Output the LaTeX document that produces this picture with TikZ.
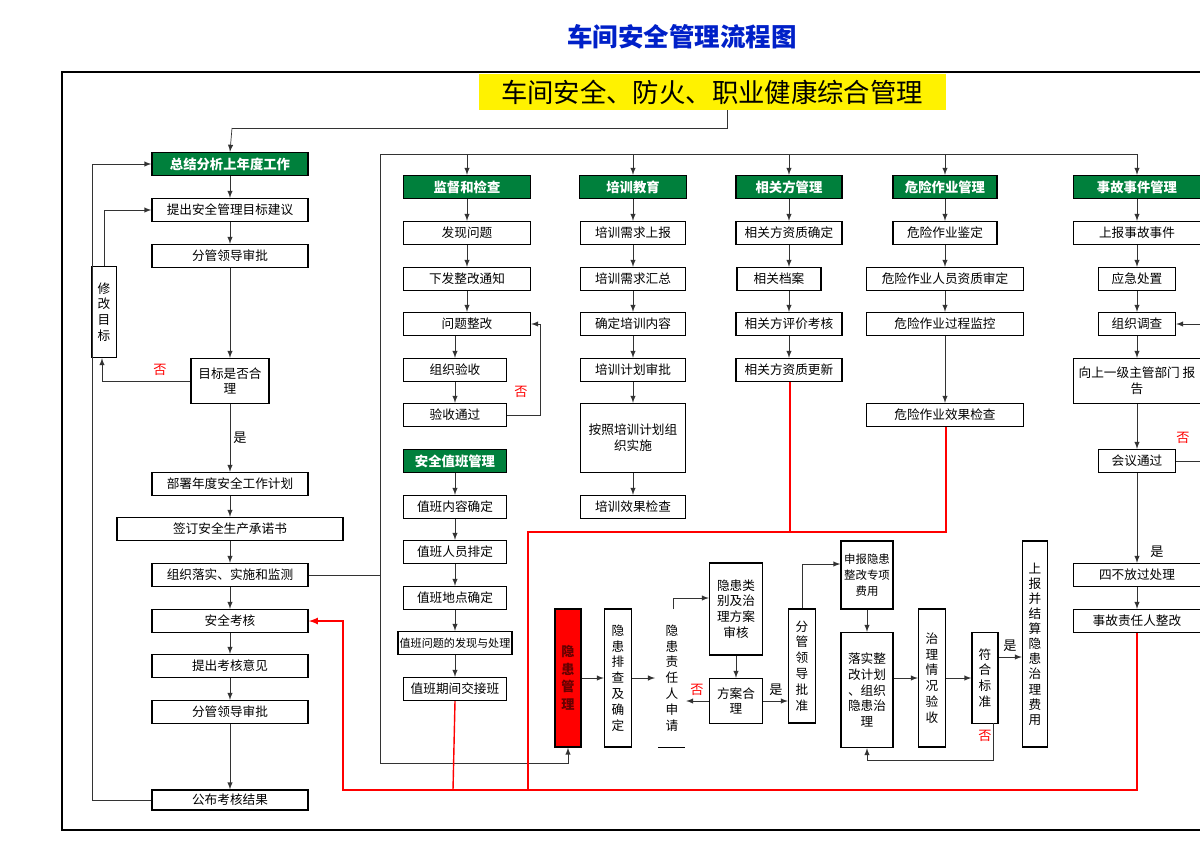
\documentclass[tikz,border=0pt]{standalone}
\usepackage{fontspec}
\setmainfont{Noto Sans CJK SC}
\usetikzlibrary{arrows}
\XeTeXlinebreaklocale "zh"
\definecolor{hdgreen}{RGB}{0,128,60}
\definecolor{ttblue}{RGB}{0,32,200}
\tikzset{
  w/.style={minimum width=#1*0.02cm},
  h/.style={minimum height=#1*0.02cm},
  box/.style={draw,thick,fill=white,inner sep=1pt,font=\fontsize{7.2}{9}\selectfont,align=center,h=23},
  head/.style={box,fill=hdgreen,text=white,font=\bfseries\fontsize{7.6}{9}\selectfont},
  vbox/.style={box,text width=0.3cm},
  arr/.style={-latex,black!80},
  ln/.style={black!80},
  red line/.style={red,thick},
  no/.style={red,font=\fontsize{7.5}{9}\selectfont},
  yes/.style={font=\fontsize{7.5}{9}\selectfont}
}
\begin{document}
\begin{tikzpicture}[x=0.02cm,y=-0.02cm]
\useasboundingbox (0,0) rectangle (1200,853);
\draw[thick] (62,72) rectangle (1215,830);
\node[text=ttblue,font=\bfseries\fontsize{14.5}{16}\selectfont] (title) at (682,37) {车间安全管理流程图};
\node[fill=yellow,w=467,h=36,font=\fontsize{15}{17}\selectfont] (top) at (712,92) {车间安全、防火、职业健康综合管理};
% left column
\node[head,w=156] (l1) at (230,164) {总结分析上年度工作};
\node[box,w=156] (l2) at (230,210) {提出安全管理目标建议};
\node[box,w=156] (l3) at (230,256) {分管领导审批};
\node[box,w=78,h=45] (l4) at (230,381) {目标是否合\\理};
\node[box,w=156] (l5) at (230,484) {部署年度安全工作计划};
\node[box,w=226] (l6) at (230,529) {签订安全生产承诺书};
\node[box,w=156] (l7) at (230,575) {组织落实、实施和监测};
\node[box,w=156] (l8) at (230,621) {安全考核};
\node[box,w=156] (l9) at (230,666) {提出考核意见};
\node[box,w=156] (l10) at (230,712) {分管领导审批};
\node[box,w=156,h=20] (l11) at (230,800) {公布考核结果};
\node[vbox,w=25,h=91] (mod) at (104,312) {修\\改\\目\\标};
\coordinate (c0) at (727,128);
\draw[ln] (top.south -| c0) -- (c0) -- (232,128);
\draw[arr] (232,128) -- (l1.north);
\foreach \a/\b in {l1/l2,l2/l3,l3/l4,l4/l5,l5/l6,l6/l7,l7/l8,l8/l9,l9/l10,l10/l11}
  \draw[arr] (\a) -- (\b);
\node[yes] at (240,438) {是};
\draw[arr] (l4.west) -- (102,381) -- (mod.south -| 102,0);
\node[no] at (160,370) {否};
\draw[arr] (mod.north) -- (104,210) -- (l2.west);
\draw[arr] (l11.west) -- (92,800) -- (92,164) -- (l1.west);
% bus
\draw[ln] (l7.east) -- (380,575);
\draw[ln] (380,763) -- (380,154) -- (1137,154);
% supervision
\node[head,w=127] (s0) at (467,187) {监督和检查};
\node[box,w=127] (s1) at (467,233) {发现问题};
\node[box,w=127] (s2) at (467,279) {下发整改通知};
\node[box,w=127] (s3) at (467,324) {问题整改};
\node[box,w=103] (s4) at (455,370) {组织验收};
\node[box,w=103] (s5) at (455,415) {验收通过};
\foreach \a/\b in {s0/s1,s1/s2,s2/s3} \draw[arr] (\a) -- (\b);
\draw[arr] (455,336) -- (s4);
\draw[arr] (s4) -- (s5);
\draw[arr] (s5.east) -- (540,415) -- (540,324) -- (s3.east);
\node[no] at (521,392) {否};
\node[head,w=103] (d0) at (455,461) {安全值班管理};
\node[box,w=103] (d1) at (455,507) {值班内容确定};
\node[box,w=103] (d2) at (455,552) {值班人员排定};
\node[box,w=103] (d3) at (455,598) {值班地点确定};
\node[box,w=103,font=\fontsize{6.3}{8}\selectfont] (d4) at (455,643) {值班问题的发现与处理};
\node[box,w=103] (d5) at (455,689) {值班期间交接班};
\foreach \a/\b in {d0/d1,d1/d2,d2/d3,d3/d4,d4/d5} \draw[arr] (\a) -- (\b);
% training
\node[head,w=107] (t0) at (633,187) {培训教育};
\node[box,w=105] (t1) at (633,233) {培训需求上报};
\node[box,w=105] (t2) at (633,279) {培训需求汇总};
\node[box,w=105] (t3) at (633,324) {确定培训内容};
\node[box,w=105] (t4) at (633,370) {培训计划审批};
\node[box,w=105,h=69] (t5) at (633,438) {按照培训计划组\\织实施};
\node[box,w=105] (t6) at (633,507) {培训效果检查};
\foreach \a/\b in {t0/t1,t1/t2,t2/t3,t3/t4,t4/t5,t5/t6} \draw[arr] (\a) -- (\b);
% related parties
\node[head,w=106] (r0) at (789,187) {相关方管理};
\node[box,w=106] (r1) at (789,233) {相关方资质确定};
\node[box,w=84] (r2) at (779,279) {相关档案};
\node[box,w=106] (r3) at (789,324) {相关方评价考核};
\node[box,w=106] (r4) at (789,370) {相关方资质更新};
\foreach \a/\b in {r1/r2,r2/r3,r3/r4} \draw[arr] (\a.south -| 789,0) -- (\b.north -| 789,0);
\draw[arr] (r0) -- (r1);
% hazardous work
\node[head,w=104] (h0) at (945,187) {危险作业管理};
\node[box,w=104] (h1) at (945,233) {危险作业鉴定};
\node[box,w=157] (h2) at (945,279) {危险作业人员资质审定};
\node[box,w=157] (h3) at (945,324) {危险作业过程监控};
\node[box,w=157] (h4) at (945,415) {危险作业效果检查};
\foreach \a/\b in {h0/h1,h1/h2,h2/h3,h3/h4} \draw[arr] (\a) -- (\b);
% accidents
\node[head,w=127] (e0) at (1137,187) {事故事件管理};
\node[box,w=127] (e1) at (1137,233) {上报事故事件};
\node[box,w=77] (e2) at (1137,279) {应急处置};
\node[box,w=77] (e3) at (1137,324) {组织调查};
\node[box,w=127,h=45] (e4) at (1137,381) {向上一级主管部门 报\\告};
\node[box,w=77] (e5) at (1137,461) {会议通过};
\node[box,w=127] (e6) at (1137,575) {四不放过处理};
\node[box,w=127] (e7) at (1137,621) {事故责任人整改};
\foreach \a/\b in {e0/e1,e1/e2,e2/e3,e3/e4,e4/e5,e5/e6,e6/e7} \draw[arr] (\a) -- (\b);
\draw[arr] (e5.east) -- (1200,461) -- (1200,324) -- (e3.east);
\node[no] at (1183,438) {否};
\node[yes] at (1157,552) {是};
\foreach \n in {s0,t0,r0,h0,e0} \draw[arr] (\n.north |- 0,154) -- (\n.north);
% hidden danger
\node[box,fill=red,w=26,h=138,text width=0.3cm,font=\bfseries\fontsize{7.5}{10}\selectfont,text=red!40!black] (g0) at (568,678) {隐\\患\\管\\理};
\node[vbox,w=27,h=138] (g1) at (618,678) {隐\\患\\排\\查\\及\\确\\定};
\node[box,draw=none,w=27,h=138,text width=0.3cm] (g2) at (672,678) {隐\\患\\责\\任\\人\\申\\请};
\draw (658,747) -- (685,747);
\node[box,w=53,h=92] (g3) at (736,609) {隐患类\\别及治\\理方案\\审核};
\node[box,w=53,h=45] (g4) at (736,701) {方案合\\理};
\node[vbox,w=27,h=114] (g5) at (802,666) {分\\管\\领\\导\\批\\准};
\node[box,w=52,h=68,font=\fontsize{6.5}{9}\selectfont] (g6) at (867,575) {申报隐患\\整改专项\\费用};
\node[box,w=52,h=115] (g7) at (867,690) {落实整\\改计划\\、组织\\隐患治\\理};
\node[vbox,w=27,h=138] (g8) at (932,678) {治\\理\\情\\况\\验\\收};
\node[vbox,w=26,h=91] (g9) at (985,678) {符\\合\\标\\准};
\node[vbox,w=25,h=206,font=\fontsize{7.2}{8.6}\selectfont] (g10) at (1035,644) {上\\报\\并\\结\\算\\隐\\患\\治\\理\\费\\用};
\draw[arr] (380,763) -- (568,763) -- (g0.south);
\draw[arr] (g0.east |- 0,678) -- (g1.west |- 0,678);
\draw[arr] (g1.east |- 0,678) -- (655,678);
\draw[arr] (673,609) -- (673,598) -- (g3.west |- 0,598);
\draw[arr] (g3) -- (g4);
\draw[arr] (g4.west) -- (g2.east |- g4.west);
\node[no] at (697,690) {否};
\draw[arr] (g4.east) -- (g5.west |- g4.east);
\node[yes] at (776,690) {是};
\draw[arr] (g5.north) -- (802,564) -- (g6.west |- 0,564);
\draw[arr] (g6) -- (g7);
\draw[arr] (g7.east |- 0,678) -- (g8.west |- 0,678);
\draw[arr] (g8.east |- 0,678) -- (g9.west |- 0,678);
\draw[arr] (g9.east |- 0,657) -- (g10.west |- 0,657);
\node[yes] at (1010,646) {是};
\draw[arr] (993,723) -- (993,760) -- (867,760) -- (g7.south);
\node[no] at (985,736) {否};
% red feedback lines
\draw[red line,-latex] (e7.south) -- (1137,790) -- (343,790) -- (343,621) -- (l8.east);
\draw[red line] (d5.south) -- (453,790);
\draw[red line] (528,790) -- (528,532) -- (946,532) -- (h4.south -| 946,0);
\draw[red line] (r4.south -| 790,0) -- (790,532);
\end{tikzpicture}
\end{document}
